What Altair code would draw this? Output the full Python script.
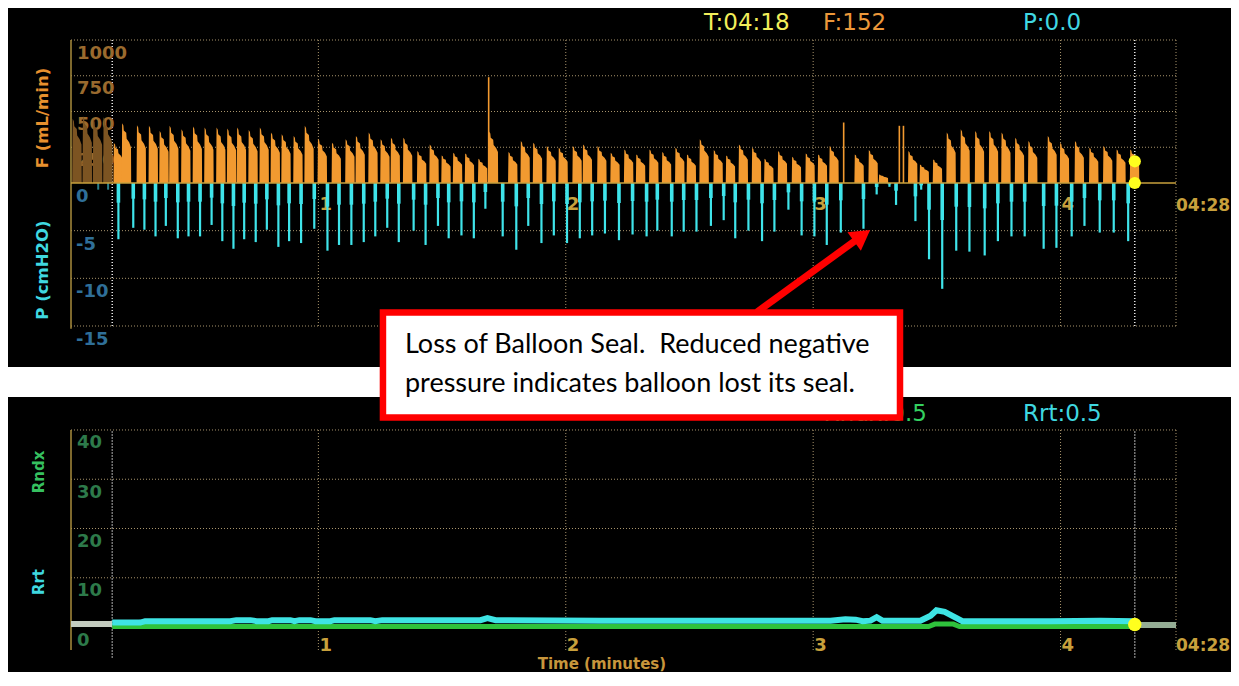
import altair as alt
import pandas as pd

# ---------------- data ----------------
SWEEP_END_S = 268.0      # right edge label 04:28
CURSOR_S = 258.0         # T:04:18
OLD_EDGE_S = 10.0        # start of current sweep (white dotted line)

# flow breaths (onset time s, peak mL/min)
flow_t = [10.3, 12.3, 15.9, 18.8, 21.4, 23.8, 26.7, 29.5, 32.3, 35.2,
          37.8, 40.2, 43.0, 45.7, 48.4, 51.0, 53.9, 56.6, 59.8, 63.2,
          66.5, 69.0, 72.1, 75.0, 77.5, 80.5, 83.9, 86.9, 89.8, 92.6,
          95.5, 98.7, 101.3, 106.0, 109.0, 112.0, 115.3, 118.2, 121.6, 124.1,
          127.6, 130.8, 134.1, 137.0, 140.2, 143.3, 146.5, 149.3, 152.4, 155.8,
          158.8, 161.9, 165.1, 168.1, 171.4, 174.8, 178.1, 181.1, 183.9, 190.0,
          193.4, 195.9, 203.0, 205.8, 209.0, 212.3, 215.7, 219.2, 222.6, 225.6,
          228.9, 232.1, 236.8, 239.8, 243.4, 246.9, 250.3, 253.5, 256.8]
flow_v = [280, 418, 404, 400, 364, 400, 376, 395, 388, 388,
          381, 388, 371, 388, 353, 341, 329, 400, 310, 282,
          306, 329, 353, 306, 317, 317, 223, 270, 193, 212,
          207, 169, 360, 216, 294, 282, 259, 247, 259, 270,
          259, 212, 235, 200, 235, 216, 247, 200, 306, 230,
          193, 270, 247, 169, 223, 183, 207, 200, 259, 200,
          230, 59, 223, 130, 165, 353, 376, 364, 364, 353,
          317, 294, 329, 282, 294, 247, 259, 235, 235]
# thin flow spikes
flow_spike_t = [101.3, 187.4, 200.9, 201.9]
flow_spike_v = [740, 423, 400, 400]
# dim data left over from previous sweep
old_flow_t = [0.3, 2.8, 5.3, 7.8]
old_flow_v = [450, 468, 445, 460]

# pressure dips (time s, cmH2O)
pres_t = [11.5, 15.1, 17.8, 20.5, 23.0, 25.9, 28.5, 31.3, 34.1, 36.7,
          39.4, 42.0, 44.8, 47.5, 50.3, 52.9, 55.8, 59.0, 62.2, 65.0,
          68.0, 71.0, 73.8, 76.7, 79.5, 83.1, 86.0, 89.0, 91.6, 94.7,
          97.7, 100.5, 104.7, 108.0, 110.9, 114.1, 117.1, 120.3, 123.4, 126.4,
          129.5, 132.9, 136.2, 139.6, 142.2, 145.7, 148.6, 151.7, 155.2, 158.3,
          161.1, 164.3, 167.6, 170.6, 174.0, 177.2, 180.3, 183.3, 186.7, 192.2,
          195.4, 198.5, 200.1, 204.8, 206.2, 208.1, 211.3, 214.7, 217.9, 221.6,
          224.8, 228.1, 231.3, 235.9, 239.0, 242.7, 245.8, 249.5, 252.9, 256.4]
pres_v = [-5.9, -4.7, -4.9, -5.6, -4.5, -5.8, -5.6, -5.6, -4.4, -6.1,
          -6.9, -5.9, -6.2, -4.9, -6.7, -6.1, -6.3, -4.8, -7.1, -6.5,
          -6.5, -6.2, -5.6, -4.7, -6.2, -5.0, -6.5, -4.5, -5.8, -5.5,
          -5.8, -2.7, -5.6, -7.0, -4.5, -6.3, -5.5, -6.3, -5.8, -5.5,
          -5.3, -6.0, -5.4, -5.6, -5.0, -5.6, -5.1, -5.1, -4.5, -3.9,
          -5.8, -5.0, -6.1, -5.1, -2.8, -5.5, -5.6, -6.5, -5.2, -4.8,
          -1.2, -0.4, -2.3, -4.0, -0.7, -8.0, -11.1, -7.1, -7.2, -7.6,
          -6.1, -5.6, -5.6, -6.9, -6.8, -5.6, -4.5, -5.2, -5.2, -6.1]
old_pres_t = [6.6, 9.0]
old_pres_v = [-0.7, -0.7]

# trend panel
rrt_t = [10.0, 16.8, 18.0, 38.6, 40.1, 43.5, 45.0, 47.9, 48.8, 53.2,
         54.2, 55.4, 58.1, 59.3, 62.9, 63.9, 72.6, 73.8, 75.5, 99.3,
         101.0, 103.0, 128.4, 152.7, 176.9, 184.2, 187.8, 190.3, 192.0, 193.9,
         195.4, 196.8, 206.0, 208.5, 209.9, 211.9, 214.8, 216.2, 225.4, 237.6,
         249.7, 258.0]
rrt_v = [0.9, 0.9, 1.2, 1.2, 1.4, 1.4, 1.2, 1.2, 1.4, 1.4,
         1.2, 1.4, 1.4, 1.2, 1.2, 1.4, 1.4, 1.2, 1.4, 1.4,
         1.8, 1.4, 1.3, 1.3, 1.3, 1.3, 1.6, 1.5, 1.2, 1.3,
         2.0, 1.3, 1.3, 2.3, 3.4, 3.1, 1.8, 1.2, 1.2, 1.2,
         1.3, 1.2]
rndx_t = [10.0, 208.0, 209.5, 214.0, 215.5, 258.0]
rndx_v = [0.1, 0.1, 0.6, 0.6, 0.1, 0.1]
old_trend_t = [0.0, 10.0]
old_trend_v = [0.6, 0.6]
tail_trend_t = [258.0, 268.0]
tail_trend_v = [0.4, 0.4]

# readouts
READ_T = "04:18"
READ_F = 152
READ_P = 0.0
READ_RNDX = 0.5
READ_RRT = 0.5

# tick labels
flow_ticks = [1000, 750, 500, 250]
pres_ticks = [0, -5, -10, -15]
trend_ticks = [40, 30, 20, 10, 0]
minute_ticks = [1, 2, 3, 4]
END_LABEL = "04:28"

note_lines = ["Loss of Balloon Seal.\u00a0 Reduced negative",
              "pressure indicates balloon lost its seal."]

# ---------------- layout / style ----------------
# one plot area spanning both monitor panels; each panel gets its own y scale
W, H = 1105, 610
ORANGE = "#f29a30"
CYAN = "#3fe4ea"
GRID = "#a8946c"
GOLD = "#c8a03c"
AXIS_GOLD = "#a88c3c"
FONT = "DejaVu Sans"

XS = alt.Scale(domain=[0, SWEEP_END_S / 60], nice=False, zero=False)
FS = alt.Scale(domain=[-3265.73, 1000], nice=False, zero=False)   # flow (top panel)
PS = alt.Scale(domain=[-48.986, 15], nice=False, zero=False)      # pressure (top panel)
TS = alt.Scale(domain=[-4.66, 119.16], nice=False, zero=False)    # trend (bottom panel)
TOP_LO, TOP_HI = -15, 15          # top panel extent in pressure units
BOT_LO, BOT_HI = -4.66, 40        # bottom panel extent in trend units


def X(f="m"):
    return alt.X(f"{f}:Q", scale=XS, axis=None)


def Y(f, s):
    return alt.Y(f"{f}:Q", scale=s, axis=None)


def df(**kw):
    return pd.DataFrame(kw)


# flow breath outline (offset s, fraction of peak)
SHAPE_DT = [0.0, 0.1, 0.4, 0.5, 1.1, 1.2, 1.8, 2.25, 2.3]
SHAPE_FR = [0.0, 1.0, 0.96, 0.88, 0.84, 0.74, 0.68, 0.6, 0.0]


def breath_rows(ts, vs):
    rows = []
    for i, (t, v) in enumerate(zip(ts, vs)):
        for dt, fr in zip(SHAPE_DT, SHAPE_FR):
            rows.append({"id": i, "m": (t + dt) / 60, "f": v * fr})
    return pd.DataFrame(rows)


flow_df = breath_rows(flow_t, flow_v)
old_flow_df = breath_rows(old_flow_t, old_flow_v)
pres_df = df(m=[t / 60 for t in pres_t], p=pres_v, z=[0] * len(pres_v),
             s=[0.35 * v for v in pres_v])
old_pres_df = df(m=[t / 60 for t in old_pres_t], p=old_pres_v, z=[0] * len(old_pres_v))
spike_df = df(m=[t / 60 for t in flow_spike_t], f=flow_spike_v, z=[0] * len(flow_spike_v))

dotted = dict(strokeDash=[1, 2], strokeWidth=1)
vgrid_m = minute_ticks + [SWEEP_END_S / 60]
white_m = [OLD_EDGE_S / 60, CURSOR_S / 60]


def vrules(ms, lo, hi, scale, **style):
    return alt.Chart(df(m=ms, a=[lo] * len(ms), b=[hi] * len(ms))).mark_rule(**style).encode(
        x=X(), y=Y("a", scale), y2="b:Q")


# ---------------- top panel ----------------
top_layers = [
    alt.Chart(df(v=flow_ticks)).mark_rule(color=GRID, **dotted).encode(y=Y("v", FS)),
    alt.Chart(df(v=pres_ticks[1:])).mark_rule(color=GRID, **dotted).encode(y=Y("v", PS)),
    vrules(vgrid_m, TOP_LO, TOP_HI, PS, color=GRID, **dotted),
    vrules(white_m, TOP_LO, TOP_HI, PS, color="#e8e8e8", strokeDash=[1, 2], strokeWidth=1.5),
    vrules([0], TOP_LO - 0.3, TOP_HI, PS, color=AXIS_GOLD, strokeWidth=1.5),
    alt.Chart(df(m=[0] * 4, v=flow_ticks, t=[str(v) for v in flow_ticks])).mark_text(
        align="left", baseline="middle", dx=6, dy=13.5, font=FONT, fontSize=18, fontWeight="bold", color="#9a6a2e"
    ).encode(x=X(), y=Y("v", FS), text="t:N"),
    alt.Chart(df(m=[0] * 4, v=pres_ticks, t=[str(v) for v in pres_ticks])).mark_text(
        align="left", baseline="middle", dx=5, dy=14, font=FONT, fontSize=18, fontWeight="bold", color="#2f6f98"
    ).encode(x=X(), y=Y("v", PS), text="t:N"),
    alt.Chart(df(m=minute_ticks, v=[0] * 4, t=[str(v) for v in minute_ticks])).mark_text(
        align="left", baseline="middle", dx=1, dy=22, font=FONT, fontSize=18, fontWeight="bold", color=GOLD
    ).encode(x=X(), y=Y("v", PS), text="t:N"),
    alt.Chart(df(m=[SWEEP_END_S / 60], v=[0], t=[END_LABEL])).mark_text(
        align="left", baseline="middle", dx=0, dy=23, font=FONT, fontSize=17, fontWeight="bold", color=GOLD
    ).encode(x=X(), y=Y("v", PS), text="t:N"),
    alt.Chart(old_flow_df).mark_area(color="#7c5422", interpolate="linear").encode(
        x=X(), y=alt.Y("f:Q", scale=FS, axis=None, stack=None), detail="id:N"),
    alt.Chart(flow_df).mark_area(color=ORANGE, interpolate="linear").encode(
        x=X(), y=alt.Y("f:Q", scale=FS, axis=None, stack=None), detail="id:N"),
    alt.Chart(spike_df).mark_rule(color=ORANGE, strokeWidth=1.6).encode(x=X(), y=Y("f", FS), y2="z:Q"),
    alt.Chart(old_pres_df).mark_rule(color="#2a7f8a", strokeWidth=2).encode(x=X(), y=Y("p", PS), y2="z:Q"),
    alt.Chart(pres_df).mark_rule(color=CYAN, strokeWidth=2.2).encode(x=X(), y=Y("p", PS), y2="z:Q"),
    alt.Chart(pres_df).mark_rule(color=CYAN, strokeWidth=3.6).encode(x=X(), y=Y("s", PS), y2="z:Q"),
    alt.Chart(df(m=[0], m2=[SWEEP_END_S / 60], v=[0])).mark_rule(color=GOLD, strokeWidth=1.5).encode(
        x=X(), x2="m2:Q", y=Y("v", FS)),
    alt.Chart(df(m=[CURSOR_S / 60], f=[READ_F])).mark_circle(color="#ffff1e", size=150, opacity=1).encode(
        x=X(), y=Y("f", FS)),
    alt.Chart(df(m=[CURSOR_S / 60], p=[READ_P])).mark_circle(color="#ffff1e", size=150, opacity=1).encode(
        x=X(), y=Y("p", PS)),
    alt.Chart(df(m=[2.559, 3.040, 3.848], v=[16.05] * 3,
                 t=["T:" + READ_T, "F:" + str(READ_F), "P:" + f"{READ_P:.1f}"],
                 c=["#f2ee5a", "#ec983a", "#40d8e2"])).mark_text(
        align="left", baseline="alphabetic", font=FONT, fontSize=23
    ).encode(x=X(), y=Y("v", PS), text="t:N", color=alt.Color("c:N", scale=None)),
    alt.Chart(df(m=[-0.113, -0.113], v=[6.82, -9.13], t=["F (mL/min)", "P (cmH2O)"],
                 c=["#e8902e", "#3fd8e0"])).mark_text(
        angle=270, align="center", baseline="middle", font=FONT, fontSize=16.5, fontWeight="bold"
    ).encode(x=X(), y=Y("v", PS), text="t:N", color=alt.Color("c:N", scale=None)),
    alt.Chart(df(m1=[2.773], p1=[-13.53], m2=[3.177], p2=[-5.92])).mark_rule(color="#ff0000", strokeWidth=7).encode(
        x=X("m1"), x2="m2:Q", y=Y("p1", PS), y2="p2:Q"),
    alt.Chart(df(m=[3.198], p=[-5.53])).mark_point(shape="triangle-up", angle=54, size=520, filled=True,
                                                   color="#ff0000", opacity=1).encode(x=X(), y=Y("p", PS)),
    # white gap between the two monitor panels
    alt.Chart(df(x1=[-0.4], x2=[4.8], y1=[-19.3], y2=[-22.45])).mark_rect(color="white").encode(
        x=X("x1"), x2="x2:Q", y=Y("y1", PS), y2="y2:Q"),
]

# ---------------- bottom panel ----------------
bot_layers = [
    alt.Chart(df(v=trend_ticks[:-1], m=[0] * 4, m2=[SWEEP_END_S / 60] * 4)).mark_rule(color=GRID, **dotted).encode(
        x=X(), x2="m2:Q", y=Y("v", TS)),
    vrules(vgrid_m, BOT_LO, BOT_HI, TS, color=GRID, **dotted),
    vrules(white_m, BOT_LO - 1.5, BOT_HI, TS, color="#e8e8e8", strokeDash=[1, 2], strokeWidth=1.5),
    vrules([0], BOT_LO, BOT_HI, TS, color=AXIS_GOLD, strokeWidth=1.5),
    alt.Chart(df(m=[0] * 5, v=trend_ticks, t=[str(v) for v in trend_ticks])).mark_text(
        align="left", baseline="middle", dx=6, dy=13.5, font=FONT, fontSize=18, fontWeight="bold", color="#2d7a4a"
    ).encode(x=X(), y=Y("v", TS), text="t:N"),
    alt.Chart(df(m=minute_ticks, v=[0] * 4, t=[str(v) for v in minute_ticks])).mark_text(
        align="left", baseline="middle", dx=1, dy=18.5, font=FONT, fontSize=18, fontWeight="bold", color=GOLD
    ).encode(x=X(), y=Y("v", TS), text="t:N"),
    alt.Chart(df(m=[SWEEP_END_S / 60], v=[0], t=[END_LABEL])).mark_text(
        align="left", baseline="middle", dx=0, dy=18.5, font=FONT, fontSize=17, fontWeight="bold", color=GOLD
    ).encode(x=X(), y=Y("v", TS), text="t:N"),
    alt.Chart(df(m=[t / 60 for t in old_trend_t], v=old_trend_v)).mark_line(color="#c4ccc0", strokeWidth=6).encode(
        x=X(), y=Y("v", TS)),
    alt.Chart(df(m=[t / 60 for t in tail_trend_t], v=tail_trend_v)).mark_line(color="#94ac94", strokeWidth=6).encode(
        x=X(), y=Y("v", TS)),
    alt.Chart(df(m=[t / 60 for t in rndx_t], v=rndx_v)).mark_line(color="#2fc23c", strokeWidth=5).encode(
        x=X(), y=Y("v", TS)),
    alt.Chart(df(m=[t / 60 for t in rrt_t], v=rrt_v)).mark_line(color="#3ee4e4", strokeWidth=6).encode(
        x=X(), y=Y("v", TS)),
    alt.Chart(df(m=[CURSOR_S / 60], v=[READ_RRT])).mark_circle(color="#ffff1e", size=180, opacity=1).encode(
        x=X(), y=Y("v", TS)),
    alt.Chart(df(m=[3.46], v=[41.8], t=["Rndx:" + f"{READ_RNDX:.1f}"])).mark_text(
        align="right", baseline="alphabetic", font=FONT, fontSize=23, color="#34d060"
    ).encode(x=X(), y=Y("v", TS), text="t:N"),
    alt.Chart(df(m=[3.848], v=[41.8], t=["Rrt:" + f"{READ_RRT:.1f}"])).mark_text(
        align="left", baseline="alphabetic", font=FONT, fontSize=23, color="#3fd8e0"
    ).encode(x=X(), y=Y("v", TS), text="t:N"),
    alt.Chart(df(m=[-0.131, -0.131], v=[31.47, 9.14], t=["Rndx", "Rrt"], c=["#36c060", "#3fd8e0"])).mark_text(
        angle=270, align="center", baseline="middle", font=FONT, fontSize=15, fontWeight="bold"
    ).encode(x=X(), y=Y("v", TS), text="t:N", color=alt.Color("c:N", scale=None)),
    alt.Chart(df(m=[2.146], v=[-7.6], t=["Time (minutes)"])).mark_text(
        align="center", baseline="middle", font=FONT, fontSize=15, fontWeight="bold", color="#c8963c"
    ).encode(x=X(), y=Y("v", TS), text="t:N"),
    # annotation
    alt.Chart(df(m1=[1.261], m2=[3.351], v1=[63.85], v2=[42.54])).mark_rect(
        fill="white", stroke="#ff0000", strokeWidth=6.5).encode(x=X("m1"), x2="m2:Q", y=Y("v1", TS), y2="v2:Q"),
    alt.Chart(df(m=[1.350, 1.350], v=[55.63, 47.71], t=note_lines)).mark_text(
        align="left", baseline="alphabetic", font="Lato", fontSize=27, color="black"
    ).encode(x=X(), y=Y("v", TS), text="t:N"),
]

chart = alt.layer(*top_layers, *bot_layers).properties(
    width=W, height=H,
    padding={"left": 63, "top": 32, "right": 55, "bottom": 22},
    autosize=alt.AutoSizeParams(type="none"),
    background="#000000",
).resolve_scale(y="independent").configure_view(stroke="transparent")

chart.save("out.html", embed_options={"renderer": "svg", "actions": False})
